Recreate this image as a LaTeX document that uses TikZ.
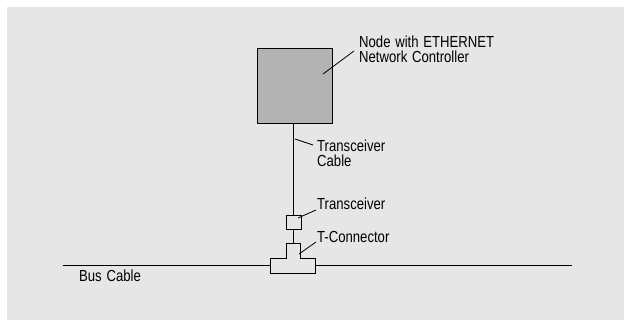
\documentclass[tikz,border=0pt]{standalone}
\usepackage{fontspec}
\setmainfont[FakeStretch=0.82,WordSpace=1.3]{Liberation Sans}
\definecolor{bggray}{HTML}{E6E6E6}
\definecolor{boxgray}{HTML}{B3B3B3}
\begin{document}
\begin{tikzpicture}[x=1pt,y=-1pt,
  lbl/.style={anchor=base west,inner sep=0pt,font=\fontsize{16}{15.5}\selectfont,align=left},
  ln/.style={line width=1pt,black},
  thin/.style={line width=0.8pt,black}]
\useasboundingbox (0,0) rectangle (624,320);
\fill[bggray] (7,7) rectangle (624,320);
% node box
\node[draw,ln,fill=boxgray,minimum width=75pt,minimum height=75pt,inner sep=0pt,anchor=north west] (nodebox) at (257,48) {};
% transceiver
\node[draw,ln,fill=bggray,minimum width=15pt,minimum height=14.5pt,inner sep=0pt,anchor=north west] (trans) at (286,215) {};
% T-connector
\coordinate (tstem) at (293.3,243.3);
\draw[ln,fill=bggray] (286,243.3) -- (300.7,243.3) -- (300.7,258.3) -- (315.7,258.3) -- (315.7,273.3) -- (270.7,273.3) -- (270.7,258.3) -- (286,258.3) -- cycle;
% bus
\coordinate (busl) at (62.7,265.7);
\coordinate (busr) at (572.3,265.7);
\draw[line width=1.6pt] (busl) -- (270.7,265.7);
\draw[line width=1.6pt] (315.7,265.7) -- (busr);
% cables
\draw[ln] (nodebox.south -| 293.3,0) -- (trans.north -| 293.3,0);
\draw[ln] (trans.south -| 293.3,0) -- (tstem);
% labels (base = baseline of last line)
\node[lbl] (l1) at (359,63) {Node with ETHERNET\\Network Controller};
\node[lbl] (l2) at (317,167) {Transceiver\\Cable};
\node[lbl] (l3) at (317,210) {Transceiver};
\node[lbl] (l4) at (317,243) {T-Connector};
\node[lbl] (l5) at (79,281.5) {Bus Cable};
% leaders
\coordinate (a1) at (323,74); \coordinate (b1) at (354,51);
\coordinate (a2) at (295,139); \coordinate (b2) at (313,145);
\coordinate (a3) at (298,218); \coordinate (b3) at (316,210);
\coordinate (a4) at (299,254); \coordinate (b4) at (316,242);
\draw[thin] (a1) -- (b1);
\draw[thin] (a2) -- (b2);
\draw[thin] (a3) -- (b3);
\draw[thin] (a4) -- (b4);
\end{tikzpicture}
\end{document}
